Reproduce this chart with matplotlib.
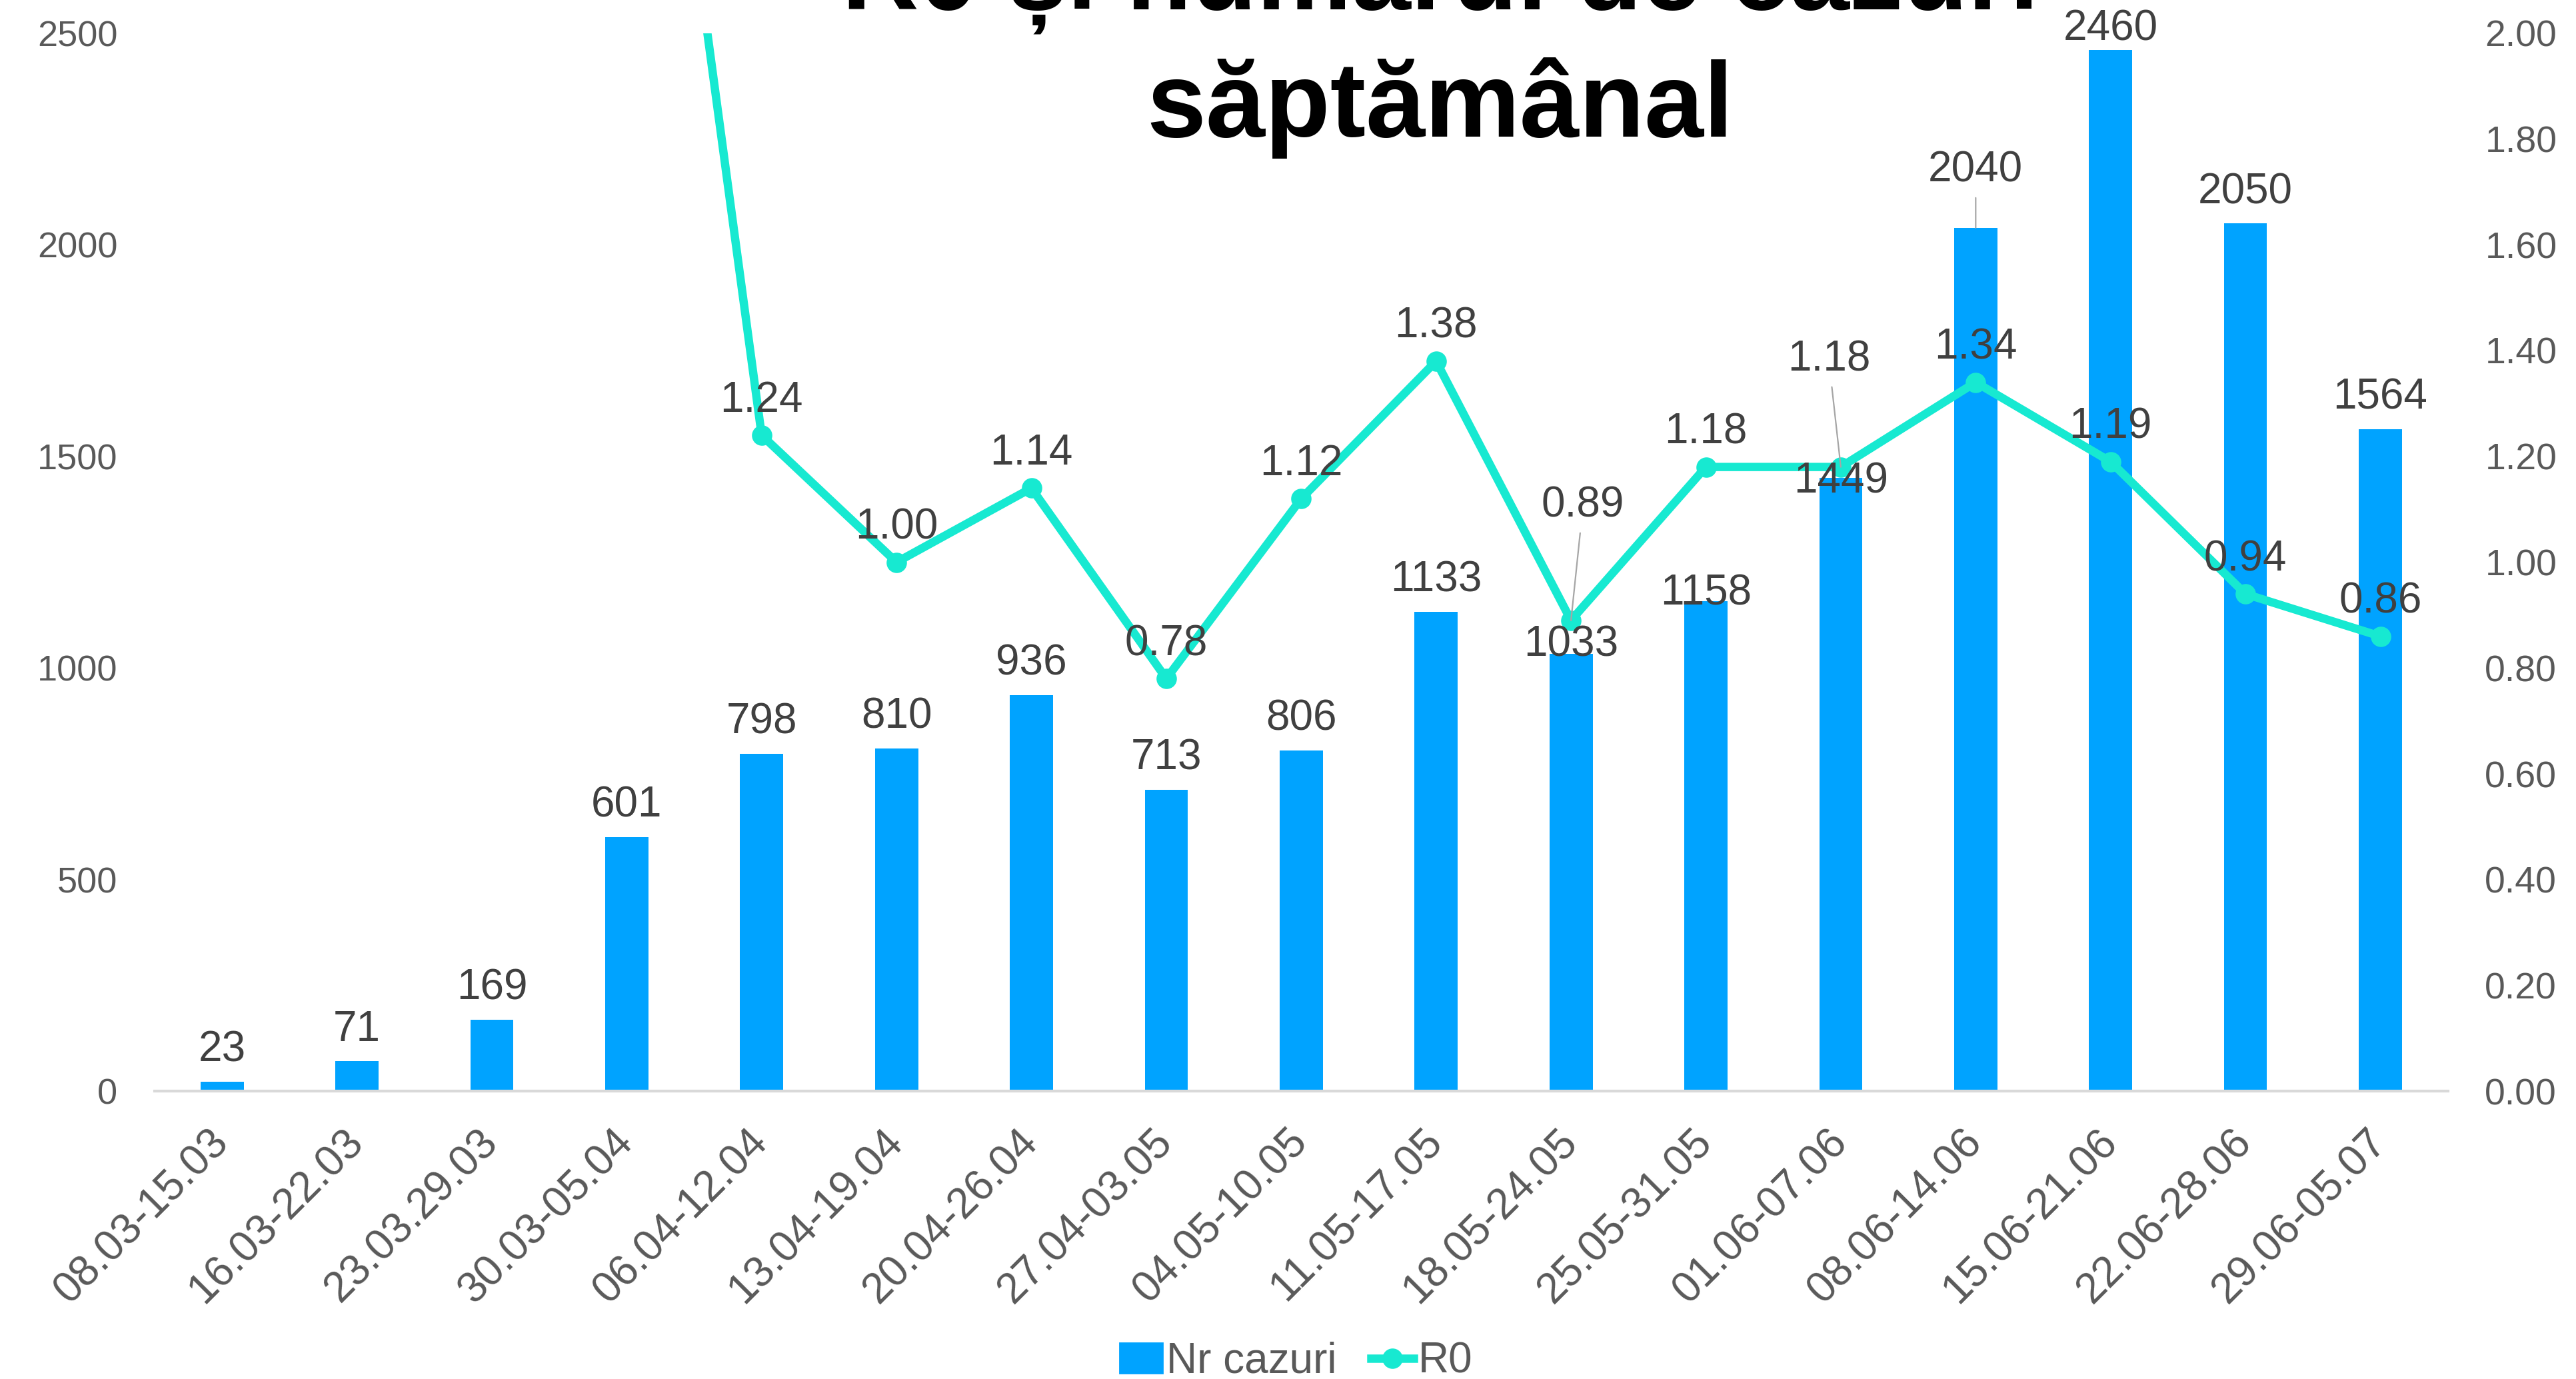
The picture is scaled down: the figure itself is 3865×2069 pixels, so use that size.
import matplotlib
matplotlib.use("Agg")
import matplotlib.pyplot as plt
import numpy as np
from matplotlib.lines import Line2D
from matplotlib.patches import Patch

# ---------------- date ----------------
weeks = ["08.03-15.03", "16.03-22.03", "23.03.29.03", "30.03-05.04",
         "06.04-12.04", "13.04-19.04", "20.04-26.04", "27.04-03.05",
         "04.05-10.05", "11.05-17.05", "18.05-24.05", "25.05-31.05",
         "01.06-07.06", "08.06-14.06", "15.06-21.06", "22.06-28.06",
         "29.06-05.07"]
cases = [23, 71, 169, 601, 798, 810, 936, 713, 806, 1133, 1033, 1158,
         1449, 2040, 2460, 2050, 1564]
# primele saptamani nu au R0, a 4-a iese din grafic (estimat din panta)
r0 = [np.nan, np.nan, np.nan, 3.13, 1.24, 1.00, 1.14, 0.78, 1.12, 1.38,
      0.89, 1.18, 1.18, 1.34, 1.19, 0.94, 0.86]

BAR_COLOR = "#00A3FF"
LINE_COLOR = "#17E9D1"
TXT = "#404040"
TICK = "#595959"

plt.rcParams["font.family"] = ["Liberation Sans", "DejaVu Sans"]

fig = plt.figure(figsize=(19.33, 10.345), dpi=200)
ax = fig.add_axes([0.060, 0.2086, 0.890, 0.7674])
ax2 = ax.twinx()

x = np.arange(len(weeks))
ax.bar(x, cases, width=0.32, color=BAR_COLOR, zorder=2)
ax2.plot(x, r0, color=LINE_COLOR, lw=4.5, marker="o", ms=10, zorder=3)

ax.set_xlim(-0.5, len(weeks) - 0.5)
ax.set_ylim(0, 2500)
ax.set_yticks(np.arange(0, 2501, 500))
ax2.set_ylim(0, 2.0)
ax2.set_yticks(np.arange(0, 2.01, 0.2))
ax2.set_yticklabels(["%.2f" % v for v in np.arange(0, 2.01, 0.2)])

ax.set_xticks(x)
ax.set_xticklabels(weeks, rotation=45, ha="right", va="center",
                   rotation_mode="anchor", fontsize=23, color=TICK)
ax.tick_params(axis="x", length=0, pad=24)
ax.tick_params(axis="y", length=0, pad=20, labelsize=19.5, labelcolor=TICK)
ax2.tick_params(axis="y", length=0, pad=20, labelsize=20, labelcolor=TICK)

for s in ["top", "left", "right"]:
    ax.spines[s].set_visible(False)
ax.spines["bottom"].set_color("#D9D9D9")
ax.spines["bottom"].set_linewidth(1.5)
for s in ax2.spines.values():
    s.set_visible(False)

# ---------------- etichete ----------------
bar_off = {10: 5, 11: 4, 12: -2, 13: 31, 14: 11.5}
bar_leader = [13]
for i, v in enumerate(cases):
    dy = bar_off.get(i, 17)
    ap = None
    if i in bar_leader:
        ap = dict(arrowstyle="-", color="#A6A6A6", lw=0.8, shrinkB=0)
    ax2.annotate(str(v), xy=(i, v), xycoords=ax.transData,
                 xytext=(0, dy), textcoords="offset points",
                 ha="center", va="center", fontsize=23, color=TXT,
                 arrowprops=ap, zorder=5)

r0_off = {10: (6.5, 62), 12: (-6.5, 58)}
for i, v in enumerate(r0):
    if np.isnan(v):
        continue
    dx, dy = r0_off.get(i, (0, 18.7))
    ap = None
    if i in r0_off:
        ap = dict(arrowstyle="-", color="#A6A6A6", lw=0.8, shrinkB=0)
    ax2.annotate("%.2f" % v, xy=(i, v), xytext=(dx, dy),
                 textcoords="offset points", ha="center", va="center",
                 fontsize=23, color=TXT, arrowprops=ap, zorder=5)

# ---------------- titlu ----------------
fig.text(0.559, 0.9937, "R0 și numărul de cazuri", ha="center", va="baseline",
         fontsize=57.6, fontweight="bold", color="black")
fig.text(0.559, 0.901, "săptămânal", ha="center", va="baseline",
         fontsize=57.6, fontweight="bold", color="black")

# ---------------- legenda ----------------
handles = [Patch(color=BAR_COLOR),
           Line2D([], [], color=LINE_COLOR, lw=4.5, marker="o", ms=10)]
fig.legend(handles, ["Nr cazuri", "R0"], loc="center",
           bbox_to_anchor=(0.503, 0.0126), ncol=2, frameon=False,
           fontsize=23, labelcolor=TICK, handlelength=1.0,
           handletextpad=0.1, columnspacing=0.8)

fig.savefig("out.png", dpi=200)
